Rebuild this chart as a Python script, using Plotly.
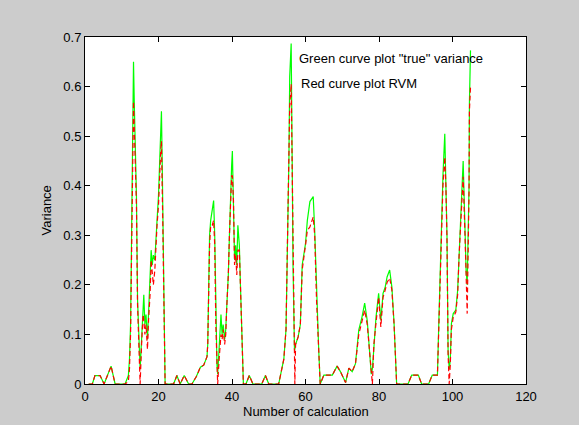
import plotly.graph_objects as go

# ---- data ----
x_calc = [1, 2, 2.7, 4.1, 5.2, 7.1, 8.2, 10.9, 11.8, 12.1, 12.4, 12.6, 12.8, 13.0, 13.2, 13.4, 13.6, 13.8,
          14.0, 14.3, 14.6, 14.85, 15.0, 15.4, 15.8, 16.0, 16.3, 16.6, 17.0, 17.3, 17.7, 18.0, 18.3, 18.6,
          19.0, 19.3, 19.6, 20.0, 20.3, 20.6, 20.8, 21.0, 21.2, 21.4, 21.6, 21.8, 24.1, 25.0, 25.9, 27.0,
          28.2, 29.1, 30.3, 31.4, 32.3, 33.2, 33.4, 33.6, 33.9, 34.2, 34.6, 35.0, 35.3, 35.6, 35.9, 36.1,
          36.5, 36.8, 37.0, 37.3, 37.6, 38.0, 38.3, 38.6, 39.0, 39.3, 39.6, 39.9, 40.1, 40.4, 40.7, 41.0,
          41.3, 41.6, 42.0, 42.3, 42.6, 42.9, 43.1, 43.8, 44.7, 45.7, 48.1, 49.1, 50.0, 52.7, 53.5, 54.1,
          54.7, 55.2, 55.5, 55.7, 56.1, 56.4, 56.6, 57.0, 57.1, 57.3, 58.0, 58.6, 59.1, 60.0, 60.5, 61.2,
          62.1, 62.5, 63.0, 63.6, 64.0, 65.0, 67.3, 68.6, 69.5, 70.9, 71.8, 72.7, 73.6, 74.5, 75.4, 76.1,
          76.8, 77.5, 77.9, 78.2, 78.6, 79.2, 79.9, 80.5, 81.1, 81.7, 82.2, 82.9, 83.5, 84.1, 84.8, 87.9,
          88.9, 90.7, 91.6, 93.5, 94.5, 95.9, 96.3, 96.6, 97.1, 97.4, 97.9, 98.2, 98.5, 98.8, 99.1, 99.4,
          99.7, 100.2, 100.9, 101.4, 101.8, 102.2, 102.6, 102.9, 103.4, 103.7, 104.0, 104.3, 104.5, 104.6,
          104.9]

true_variance = [0, 0, 0.017, 0.017, 0, 0.036, 0, 0, 0.017, 0.05, 0.12, 0.25, 0.41, 0.56, 0.65, 0.57, 0.5, 0.42,
                 0.38, 0.17, 0.12, 0.07, 0.03, 0.09, 0.15, 0.18, 0.12, 0.14, 0.09, 0.14, 0.2, 0.27, 0.24, 0.26,
                 0.25, 0.3, 0.33, 0.38, 0.45, 0.5, 0.55, 0.45, 0.32, 0.2, 0.06, 0, 0, 0.017, 0, 0.017,
                 0, 0, 0.015, 0.034, 0.038, 0.055, 0.08, 0.2, 0.3, 0.33, 0.35, 0.37, 0.3, 0.13, 0.04, 0.02,
                 0.08, 0.12, 0.14, 0.1, 0.12, 0.09, 0.11, 0.16, 0.22, 0.3, 0.39, 0.44, 0.47, 0.38, 0.25, 0.28,
                 0.24, 0.32, 0.28, 0.2, 0.12, 0.04, 0, 0, 0.017, 0, 0, 0.017, 0, 0, 0.03, 0.05,
                 0.11, 0.32, 0.46, 0.62, 0.687, 0.43, 0.24, 0.068, 0.07, 0.08, 0.095, 0.12, 0.24, 0.283, 0.33, 0.368,
                 0.378, 0.31, 0.176, 0.068, 0, 0.018, 0.018, 0.036, 0.025, 0.003, 0.032, 0.025, 0.041, 0.109, 0.136, 0.163,
                 0.128, 0.068, 0.02, 0.03, 0.082, 0.136, 0.183, 0.128, 0.183, 0.196, 0.216, 0.23, 0.196, 0.122, 0, 0,
                 0.018, 0.018, 0, 0, 0.018, 0.018, 0.13, 0.22, 0.31, 0.42, 0.505, 0.41, 0.3, 0.068, 0.03, 0.048,
                 0.122, 0.142, 0.149, 0.189, 0.27, 0.324, 0.398, 0.45, 0.31, 0.23, 0.2, 0.3, 0.4, 0.566,
                 0.673]

rvm_variance = [0, 0, 0.017, 0.017, 0, 0.036, 0, 0, 0.005, 0.03, 0.1, 0.24, 0.38, 0.5, 0.57, 0.52, 0.45, 0.38,
                0.36, 0.16, 0.1, 0.04, 0.0, 0.08, 0.14, 0.13, 0.1, 0.12, 0.07, 0.13, 0.18, 0.25, 0.23, 0.2,
                0.23, 0.28, 0.32, 0.36, 0.44, 0.47, 0.49, 0.42, 0.31, 0.2, 0.06, 0, 0, 0.017, 0, 0.017,
                0, 0, 0.015, 0.034, 0.038, 0.055, 0.08, 0.18, 0.28, 0.32, 0.32, 0.33, 0.28, 0.12, 0.02, 0,
                0.05, 0.1, 0.1, 0.09, 0.11, 0.08, 0.1, 0.16, 0.22, 0.3, 0.37, 0.42, 0.42, 0.37, 0.24, 0.26,
                0.22, 0.27, 0.27, 0.2, 0.1, 0.03, 0, 0, 0.017, 0, 0, 0.017, 0, 0, 0.03, 0.05,
                0.11, 0.31, 0.43, 0.56, 0.605, 0.42, 0.24, 0.03, 0.0, 0.08, 0.095, 0.12, 0.23, 0.28, 0.31, 0.317,
                0.337, 0.30, 0.17, 0.068, 0, 0.018, 0.018, 0.036, 0.025, 0.003, 0.032, 0.025, 0.041, 0.1, 0.13, 0.149,
                0.12, 0.06, 0.01, 0, 0.08, 0.13, 0.175, 0.115, 0.175, 0.19, 0.205, 0.214, 0.19, 0.12, 0, 0,
                0.018, 0.018, 0, 0, 0.018, 0.018, 0.12, 0.2, 0.29, 0.4, 0.458, 0.40, 0.29, 0.06, 0.0, 0.04,
                0.11, 0.135, 0.145, 0.18, 0.26, 0.31, 0.38, 0.418, 0.3, 0.2, 0.142, 0.29, 0.39, 0.55,
                0.6]

x_ticks = [0, 20, 40, 60, 80, 100, 120]
y_ticks = [0, 0.1, 0.2, 0.3, 0.4, 0.5, 0.6, 0.7]
y_tick_labels = ["0", "0.1", "0.2", "0.3", "0.4", "0.5", "0.6", "0.7"]

FONT = "Arial, 'Liberation Sans', Helvetica, sans-serif"
FS = 13

fig = go.Figure()
fig.add_trace(go.Scatter(x=x_calc, y=true_variance, mode="lines",
                         line=dict(color="#00ff00", width=1.2), name="true", showlegend=False))
fig.add_trace(go.Scatter(x=x_calc, y=rvm_variance, mode="lines",
                         line=dict(color="#ff0000", width=1.2, dash="5px,3px"), name="RVM", showlegend=False))

axis_common = dict(showgrid=False, zeroline=False, showline=True, linecolor="black", linewidth=1,
                   mirror="ticks", ticks="inside", ticklen=5, tickcolor="black", tickwidth=1,
                   tickfont=dict(family=FONT, size=FS, color="black"))

fig.update_xaxes(range=[0, 120], tickvals=x_ticks, ticktext=[str(v) for v in x_ticks], **axis_common)
fig.update_yaxes(range=[0, 0.7], tickvals=y_ticks, ticktext=y_tick_labels, **axis_common)

fig.add_annotation(x=57.8, y=0.657, xref="x", yref="y", text='Green curve plot "true" variance',
                   showarrow=False, xanchor="left", yanchor="middle",
                   font=dict(family=FONT, size=FS, color="black"))
fig.add_annotation(x=58.2, y=0.607, xref="x", yref="y", text="Red curve plot RVM",
                   showarrow=False, xanchor="left", yanchor="middle",
                   font=dict(family=FONT, size=FS, color="black"))

fig.add_annotation(x=0.5, y=-27/347, xref="paper", yref="paper", text="Number of calculation",
                   showarrow=False, xanchor="center", yanchor="middle",
                   font=dict(family=FONT, size=FS, color="black"))
fig.add_annotation(x=-39/441, y=0.5, xref="paper", yref="paper", text="Variance", textangle=-90,
                   showarrow=False, xanchor="center", yanchor="middle",
                   font=dict(family=FONT, size=FS, color="black"))

fig.update_layout(width=579, height=425, autosize=False,
                  margin=dict(l=85, r=53, t=37, b=41, pad=0),
                  paper_bgcolor="#cccccc", plot_bgcolor="white",
                  font=dict(family=FONT, size=FS, color="black"))

fig.write_html("out.html", config={"displayModeBar": False, "staticPlot": True})

# remove the default page margin so the figure sits at the window's top-left corner
with open("out.html", "r", encoding="utf-8") as fh:
    html = fh.read()
html = html.replace("<head>", "<head><style>html,body{margin:0;padding:0;overflow:hidden;background:#cccccc;}</style>", 1)
with open("out.html", "w", encoding="utf-8") as fh:
    fh.write(html)
